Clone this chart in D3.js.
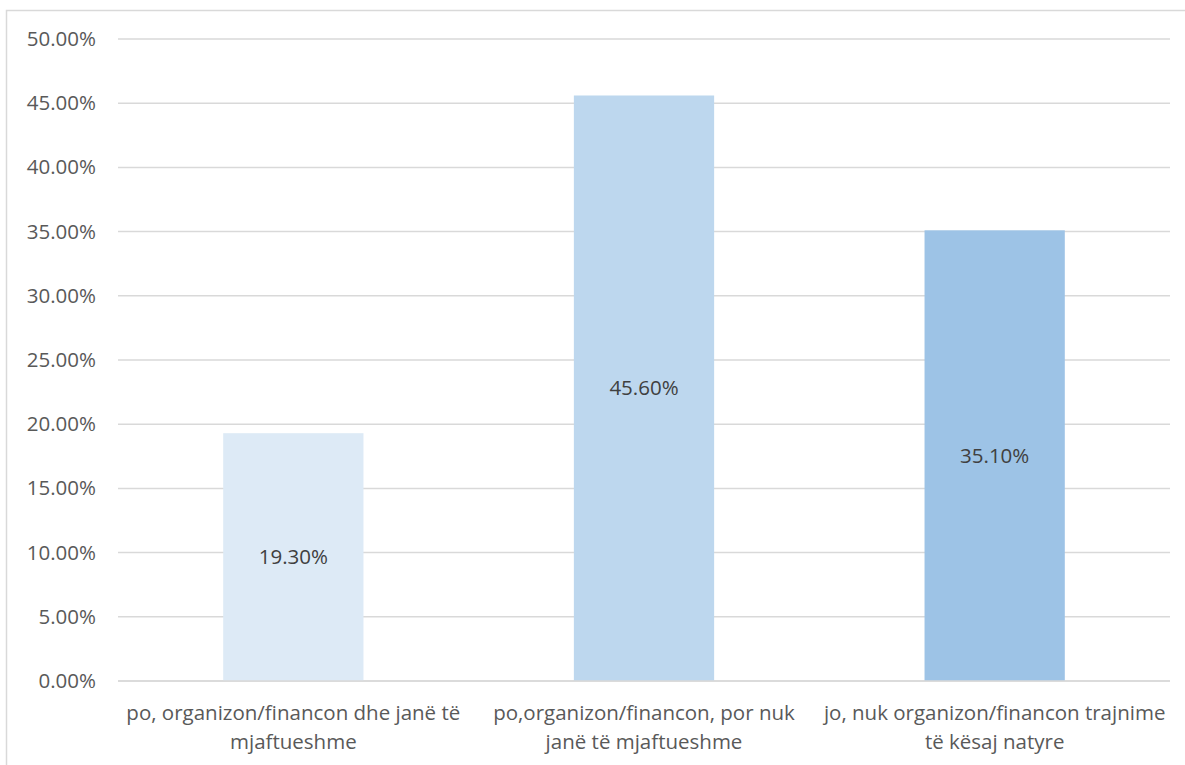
<!DOCTYPE html>
<html>
<head>
<meta charset="utf-8">
<script src="https://cdn.jsdelivr.net/npm/d3@7"></script>
<style>
  html, body { margin: 0; padding: 0; background: #fff; }
  svg { display: block; }
  text { font-family: "Open Sans", "Liberation Sans", sans-serif; }
</style>
</head>
<body>
<svg id="chart" width="1185" height="765"></svg>
<script>
// Survey answers (category labels, split into display lines)
const categories = [
  "po, organizon/financon dhe janë të mjaftueshme",
  "po,organizon/financon, por nuk janë të mjaftueshme",
  "jo, nuk organizon/financon trajnime të kësaj natyre"
];
const categoryLines = [
  ["po, organizon/financon dhe janë të", "mjaftueshme"],
  ["po,organizon/financon, por nuk", "janë të mjaftueshme"],
  ["jo, nuk organizon/financon trajnime", "të kësaj natyre"]
];
const values = [0.193, 0.456, 0.351];
const valueLabels = ["19.30%", "45.60%", "35.10%"];
const barColors = ["#ddeaf6", "#bdd7ee", "#9dc3e6"];
const yTicks = [0, 0.05, 0.10, 0.15, 0.20, 0.25, 0.30, 0.35, 0.40, 0.45, 0.50];

const FONT_SIZE = "20.5px";
const svg = d3.select("#chart");

// outer chart frame
svg.append("rect")
  .attr("x", 6.5).attr("y", 10.5)
  .attr("width", 1200).attr("height", 800)
  .attr("fill", "none").attr("stroke", "#d9d9d9").attr("stroke-width", 1.5);

const plot = { left: 118, right: 1170, top: 39, bottom: 681 };

const x = d3.scaleBand()
  .domain(categories)
  .range([plot.left, plot.right])
  .paddingInner(0.6)
  .paddingOuter(0.3);

const y = d3.scaleLinear()
  .domain([0, 0.5])
  .range([plot.bottom, plot.top]);

// horizontal gridlines
svg.append("g")
  .selectAll("line")
  .data(yTicks)
  .join("line")
  .attr("x1", plot.left).attr("x2", plot.right)
  .attr("y1", d => y(d)).attr("y2", d => y(d))
  .attr("stroke", "#d9d9d9").attr("stroke-width", 1.5);

// y axis labels
const yAxis = d3.axisLeft(y)
  .tickValues(yTicks)
  .tickFormat(d => (d * 100).toFixed(2) + "%")
  .tickSize(0)
  .tickPadding(22);
const yg = svg.append("g")
  .attr("transform", `translate(${plot.left},0)`)
  .call(yAxis);
yg.select(".domain").remove();
yg.selectAll("text")
  .attr("fill", "#595959")
  .style("font-size", FONT_SIZE)
  .style("font-family", "'Open Sans', sans-serif");

// bars
svg.append("g")
  .selectAll("rect")
  .data(values)
  .join("rect")
  .attr("x", (d, i) => x(categories[i]))
  .attr("y", d => y(d))
  .attr("width", x.bandwidth())
  .attr("height", d => y(0) - y(d))
  .attr("fill", (d, i) => barColors[i]);

// value labels in the middle of each bar
svg.append("g")
  .selectAll("text")
  .data(values)
  .join("text")
  .attr("x", (d, i) => x(categories[i]) + x.bandwidth() / 2)
  .attr("y", d => (y(d) + y(0)) / 2)
  .attr("dy", "0.35em")
  .attr("text-anchor", "middle")
  .attr("fill", "#404040")
  .style("font-size", FONT_SIZE)
  .text((d, i) => valueLabels[i]);

// baseline
svg.append("line")
  .attr("x1", plot.left).attr("x2", plot.right)
  .attr("y1", y(0)).attr("y2", y(0))
  .attr("stroke", "#d9d9d9").attr("stroke-width", 1.5);

// category labels
const cat = svg.append("g")
  .selectAll("text")
  .data(categories)
  .join("text")
  .attr("x", d => x(d) + x.bandwidth() / 2)
  .attr("y", 713)
  .attr("text-anchor", "middle")
  .attr("fill", "#595959")
  .style("font-size", FONT_SIZE);
cat.each(function(d, i) {
  d3.select(this).selectAll("tspan")
    .data(categoryLines[i])
    .join("tspan")
    .attr("x", x(d) + x.bandwidth() / 2)
    .attr("dy", (l, j) => j === 0 ? "0.35em" : 29)
    .text(l => l);
});
</script>
</body>
</html>
